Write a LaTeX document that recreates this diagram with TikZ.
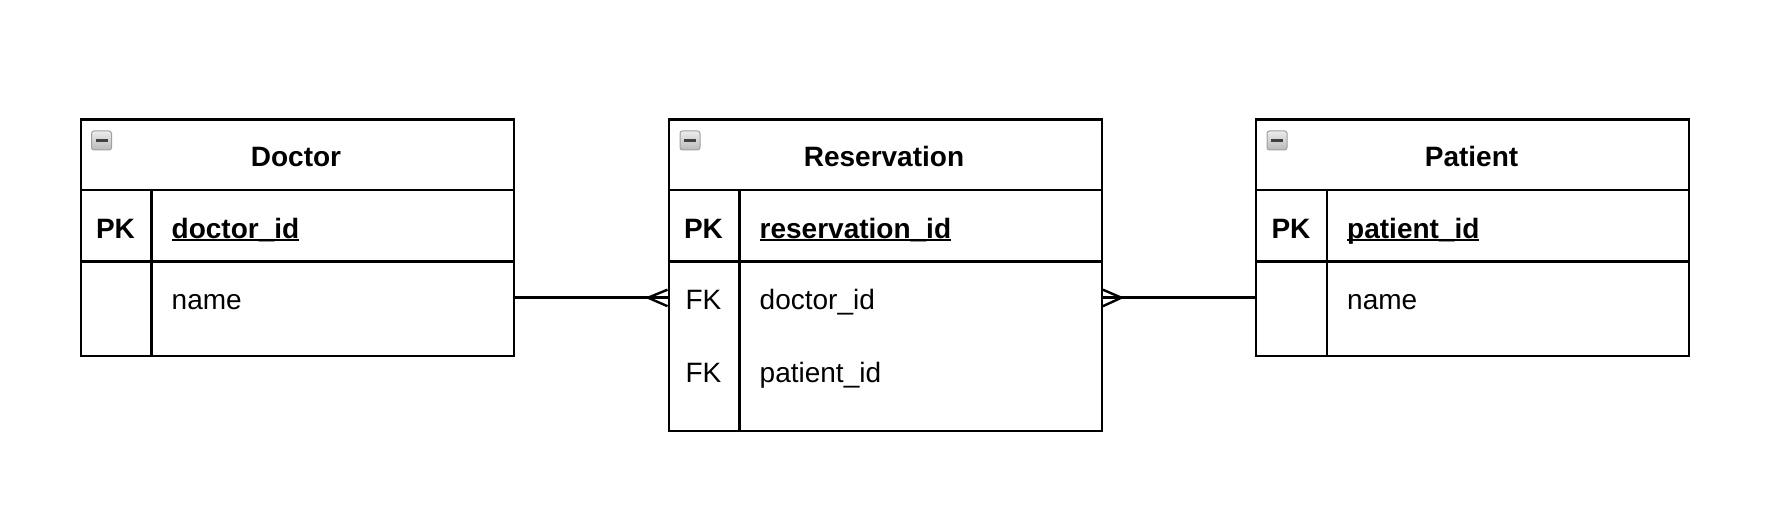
\documentclass[tikz,border=0pt]{standalone}
\usepackage{fontspec}
\setmainfont{Liberation Sans}
\newcommand\myul[1]{\setbox0\hbox{#1}\rlap{\rule[-2.5pt]{\wd0}{2pt}}\box0}
\begin{document}
\begin{tikzpicture}[x=1pt,y=-1pt,
  tbl/.style={draw, line width=2.4pt, minimum width=433pt, anchor=north west, inner sep=0pt},
  sep/.style={line width=2.4pt},
  pksep/.style={line width=3pt},
  txt/.style={font=\fontsize{28}{32}\selectfont, inner sep=0pt},
  hdr/.style={txt, font=\bfseries\fontsize{28}{32}\selectfont, anchor=base},
  keyb/.style={txt, font=\bfseries\fontsize{28}{32}\selectfont, anchor=base},
  keyr/.style={txt, anchor=base},
  fldb/.style={txt, font=\bfseries\fontsize{28}{32}\selectfont, anchor=base west},
  fldr/.style={txt, anchor=base west},
  conn/.style={line width=2.4pt},
  iconbox/.style={draw=gray!75, line width=1pt, rounded corners=2.5pt, top color=gray!15, bottom color=gray!55, minimum width=20pt, minimum height=19pt, anchor=north west, inner sep=0pt},
  iconbar/.style={line width=3pt, draw=black!75}
]
\useasboundingbox (0,0) rectangle (1768,518);
\fill[white] (0,0) rectangle (1768,518);

% ---------- Doctor ----------
\node[tbl, minimum height=236.7pt] (doctor) at (79.5,118.3) {};
\draw[sep] (79.5,190) -- (512.5,190);
\draw[pksep] (79.5,261.7) -- (512.5,261.7);
\draw[sep] (151.5,190) -- (151.5,355);
\node[iconbox] (doctoricon) at (91,130.5) {};
\draw[iconbar] ([xshift=-6pt]doctoricon.center) -- ([xshift=6pt]doctoricon.center);
\node[hdr] (doctortitle) at (296,166.5) {Doctor};
\node[keyb] (doctorpk) at (115.5,239) {PK};
\node[fldb] (doctorid) at (171.5,239) {\myul{doctor\_id}};
\node[fldr] (doctorname) at (171.5,309) {name};

% ---------- Reservation ----------
\node[tbl, minimum height=311.7pt] (reservation) at (667.5,118.3) {};
\draw[sep] (667.5,190) -- (1100.5,190);
\draw[pksep] (667.5,261.7) -- (1100.5,261.7);
\draw[sep] (739.5,190) -- (739.5,430);
\node[iconbox] (reservationicon) at (679.5,130.5) {};
\draw[iconbar] ([xshift=-6pt]reservationicon.center) -- ([xshift=6pt]reservationicon.center);
\node[hdr] (reservationtitle) at (884,166.5) {Reservation};
\node[keyb] (reservationpk) at (703.5,239) {PK};
\node[fldb] (reservationid) at (759.5,239) {\myul{reservation\_id}};
\node[keyr] (fkone) at (703.5,309) {FK};
\node[fldr] (fkdoctor) at (759.5,309) {doctor\_id};
\node[keyr] (fktwo) at (703.5,382.5) {FK};
\node[fldr] (fkpatient) at (759.5,382.5) {patient\_id};

% ---------- Patient ----------
\node[tbl, minimum height=236.7pt] (patient) at (1255,118.3) {};
\draw[sep] (1255,190) -- (1688,190);
\draw[pksep] (1255,261.7) -- (1688,261.7);
\draw[sep] (1327,190) -- (1327,355);
\node[iconbox] (patienticon) at (1266.5,130.5) {};
\draw[iconbar] ([xshift=-6pt]patienticon.center) -- ([xshift=6pt]patienticon.center);
\node[hdr] (patienttitle) at (1471.5,166.5) {Patient};
\node[keyb] (patientpk) at (1291,239) {PK};
\node[fldb] (patientid) at (1347,239) {\myul{patient\_id}};
\node[fldr] (patientname) at (1347,309) {name};

% ---------- Connectors ----------
\coordinate (linky) at (0,297.7);
\draw[conn] (doctor.east |- linky) -- (reservation.west |- linky);
\draw[conn] ([xshift=-19.5pt]reservation.west |- linky) -- ([yshift=8pt]reservation.west |- linky);
\draw[conn] ([xshift=-19.5pt]reservation.west |- linky) -- ([yshift=-8.5pt]reservation.west |- linky);
\draw[conn] (reservation.east |- linky) -- (patient.west |- linky);
\draw[conn] ([xshift=18.5pt]reservation.east |- linky) -- ([yshift=8pt]reservation.east |- linky);
\draw[conn] ([xshift=18.5pt]reservation.east |- linky) -- ([yshift=-8.5pt]reservation.east |- linky);
\end{tikzpicture}
\end{document}
